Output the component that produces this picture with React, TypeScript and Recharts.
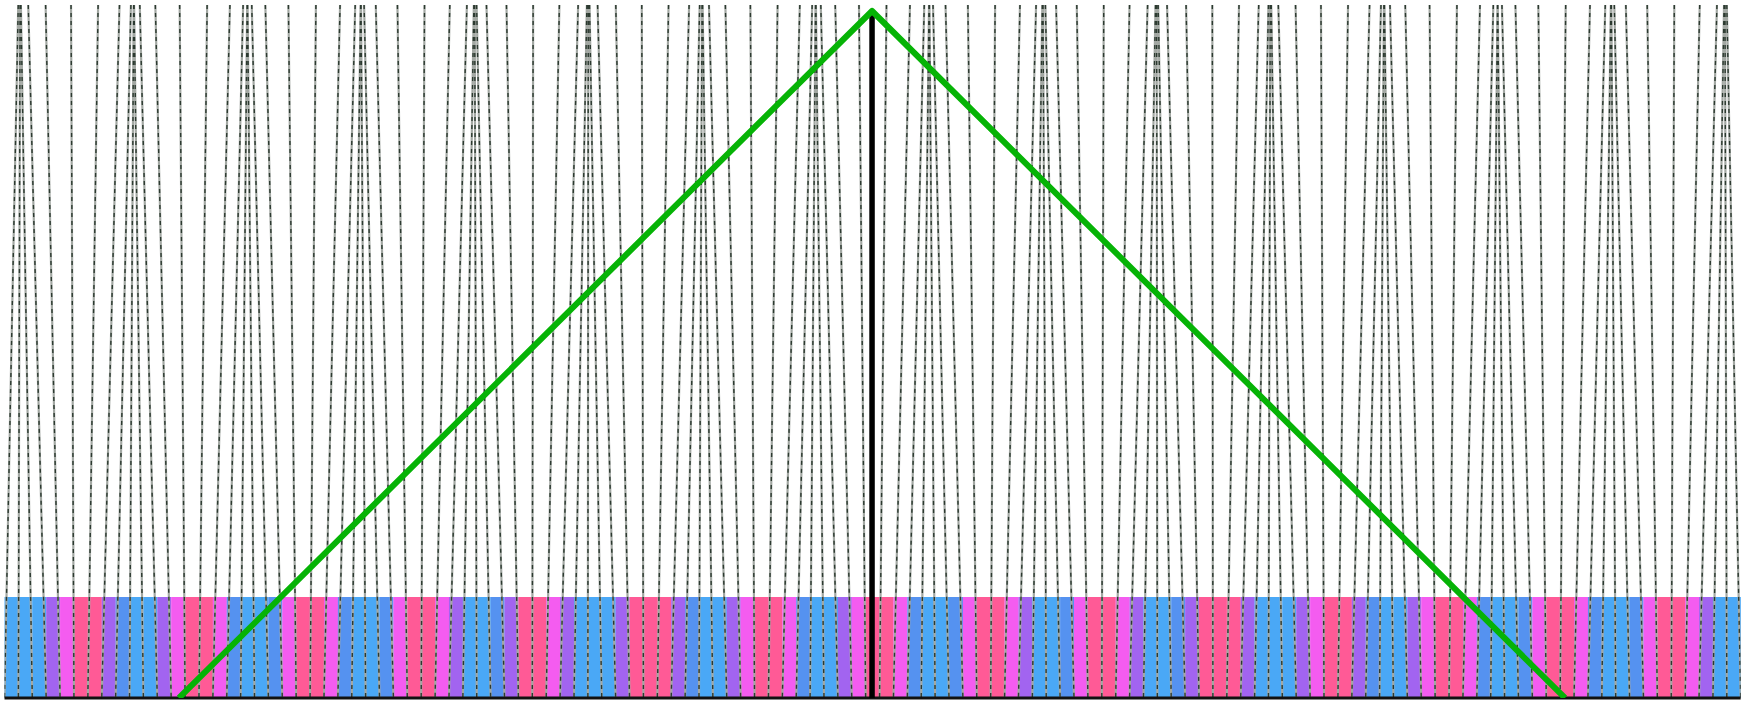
import React from 'react'
import { ComposedChart, Bar, Cell, Line, XAxis, YAxis, ReferenceLine } from 'recharts'

// x is measured in columns (0..125), y in pixels above the baseline
const COLUMN_COUNT = 125
const PLOT_TOP = 693
const BAND_TOP = 101

// top end of each thin line; its bottom end sits on column edge i
const lineTop = [
  0.99, 1.12, 1.18, 1.71, 2.96, 4.79, 6.74, 8.28, 9.10, 9.30,
  9.33, 9.74, 10.86, 12.61, 14.59, 16.23, 17.18, 17.47, 17.50, 17.80,
  18.78, 20.44, 22.42, 24.16, 25.25, 25.64, 25.67, 25.89, 26.73, 28.29,
  30.24, 32.06, 33.29, 33.79, 33.85, 33.99, 34.70, 36.14, 38.06, 39.95,
  41.30, 41.93, 42.03, 42.12, 42.70, 44.01, 45.88, 47.81, 49.29, 50.05,
  50.22, 50.26, 50.72, 51.90, 53.70, 55.66, 57.26, 58.15, 58.39, 58.42,
  58.77, 59.81, 61.52, 63.50, 65.19, 66.22, 66.56, 66.59, 66.85, 67.75,
  69.36, 71.32, 73.11, 74.27, 74.72, 74.77, 74.94, 75.71, 77.20, 79.14,
  81.00, 82.30, 82.87, 82.95, 83.06, 83.70, 85.07, 86.96, 88.88, 90.30,
  91.00, 91.13, 91.20, 91.71, 92.95, 94.78, 96.73, 98.28, 99.10, 99.31,
  99.35, 99.75, 100.85, 102.60, 104.57, 106.23, 107.19, 107.49, 107.51, 107.81,
  108.78, 110.43, 112.40, 114.15, 115.25, 115.65, 115.69, 115.90, 116.73, 118.27,
  120.22, 122.05, 123.29, 123.80, 123.87, 124.00,
]

// colour of each column in the bottom band
const bandShade = [
  'b1', 'b1', 'b1', 'v', 'm', 'p', 'p', 'v', 'b2', 'b1',
  'b1', 'v', 'm', 'p', 'p', 'm', 'b2', 'b1', 'b1', 'b2',
  'm', 'p', 'p', 'm', 'b2', 'b1', 'b1', 'b2', 'm', 'p',
  'p', 'm', 'v', 'b1', 'b1', 'b2', 'v', 'p', 'p', 'm',
  'v', 'b1', 'b1', 'b1', 'v', 'p', 'p', 'p', 'v', 'b2',
  'b1', 'b1', 'v', 'm', 'p', 'p', 'm', 'b2', 'b1', 'b1',
  'v', 'm', 'p', 'p', 'm', 'b2', 'b1', 'b1', 'b2', 'm',
  'p', 'p', 'm', 'v', 'b1', 'b1', 'b2', 'm', 'p', 'p',
  'm', 'v', 'b1', 'b1', 'b2', 'v', 'p', 'p', 'p', 'v',
  'b1', 'b1', 'b1', 'v', 'm', 'p', 'p', 'v', 'b2', 'b1',
  'b1', 'v', 'm', 'p', 'p', 'm', 'b2', 'b1', 'b1', 'b2',
  'm', 'p', 'p', 'm', 'b2', 'b1', 'b1', 'b2', 'm', 'p',
  'p', 'm', 'v', 'b1', 'b1',
]

const SHADES: Record<string, string> = {
  b1: '#4aa8f6',
  b2: '#5592f0',
  v: '#a264f0',
  m: '#f45cf0',
  p: '#ff5a96',
}

// the green tent and the thick black marker
const greenX = [12.56, 62.46, 112.35]
const greenY = [0, 687, 0]
const markerX = 62.46
const markerY = [0, 688]

const bandData = bandShade.map((s, i) => ({ col: i, band: BAND_TOP }))

// one path, segments split by null points
const thinSegments = lineTop.flatMap((top, i) => [
  { x: top, y: PLOT_TOP },
  { x: i, y: 0 },
  { x: i, y: null },
])

const greenData = greenX.map((x, i) => ({ x, y: greenY[i] }))
const markerData = markerY.map(y => ({ x: markerX, y }))

export default function App() {
  return (
    <div style={{ position: 'absolute', left: 0, top: 0, background: '#fff' }}>
      <ComposedChart
        width={1747}
        height={701}
        data={bandData}
        margin={{ top: 5, right: 6.3, bottom: 3, left: 4.5 }}
        barCategoryGap={0}
        barGap={0}
      >
        <XAxis xAxisId="cat" dataKey="col" type="category" hide />
        <XAxis
          xAxisId="num"
          dataKey="x"
          type="number"
          domain={[0, COLUMN_COUNT]}
          allowDataOverflow
          hide
        />
        <YAxis type="number" domain={[0, PLOT_TOP]} allowDataOverflow hide />

        <Bar xAxisId="cat" dataKey="band" isAnimationActive={false}>
          {bandShade.map((s, i) => (
            <Cell key={i} fill={SHADES[s]} />
          ))}
        </Bar>

        <Line
          xAxisId="num"
          data={thinSegments}
          dataKey="y"
          stroke="#a3a8a3"
          strokeWidth={2.2}
          dot={false}
          activeDot={false}
          connectNulls={false}
          isAnimationActive={false}
        />
        <Line
          xAxisId="num"
          data={thinSegments}
          dataKey="y"
          stroke="#2c3a30"
          strokeWidth={1.4}
          strokeDasharray="4 4"
          dot={false}
          activeDot={false}
          connectNulls={false}
          isAnimationActive={false}
        />

        <ReferenceLine xAxisId="num" y={0} stroke="#111" strokeWidth={3} ifOverflow="visible" />

        <Line
          xAxisId="num"
          data={markerData}
          dataKey="y"
          stroke="#000"
          strokeWidth={5.5}
          dot={false}
          activeDot={false}
          isAnimationActive={false}
        />
        <Line
          xAxisId="num"
          data={greenData}
          dataKey="y"
          stroke="#06b306"
          strokeWidth={6}
          strokeLinejoin="round"
          dot={false}
          activeDot={false}
          isAnimationActive={false}
        />
      </ComposedChart>
    </div>
  )
}
